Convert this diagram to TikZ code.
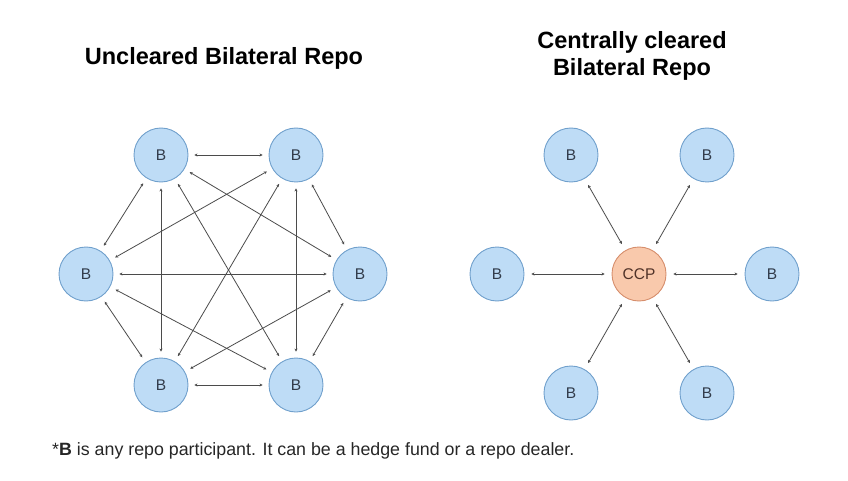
\documentclass[tikz,border=0pt]{standalone}
\usepackage{fontspec}
\setmainfont{Liberation Sans}
\usepackage{xcolor}
\usepackage{tikz}
\usetikzlibrary{arrows.meta}
\definecolor{bFill}{RGB}{190,220,246}
\definecolor{bLine}{RGB}{112,160,204}
\definecolor{bText}{RGB}{50,60,75}
\definecolor{cFill}{RGB}{249,201,172}
\definecolor{cLine}{RGB}{214,142,108}
\definecolor{cText}{RGB}{80,50,40}
\definecolor{eGray}{RGB}{75,75,75}

\begin{document}
\begin{tikzpicture}[x=1pt, y=-1pt,
  party/.style={circle, draw=bLine, fill=bFill, line width=0.9pt, minimum size=54pt,
    inner sep=0pt, text=bText, font=\fontsize{15.5}{15.5}\selectfont},
  ccp/.style={party, draw=cLine, fill=cFill, text=cText},
  link/.style={eGray, line width=0.8pt, shorten <=6pt, shorten >=6pt,
    {Stealth[length=3pt,width=3pt]}-{Stealth[length=3pt,width=3pt]}},
  heading/.style={font=\bfseries\fontsize{23.5}{27}\selectfont, align=center}]
  \useasboundingbox (0,0) rectangle (848,481);

  % titles
  \node[heading, anchor=base] (tl) at (224,65) {Uncleared Bilateral Repo};
  \node[heading, anchor=base] (tr) at (632,76) {Centrally cleared\\Bilateral Repo};

  % uncleared side — six dealers, everyone trades with everyone
  \node[party] (u1) at (161,155) {B};
  \node[party] (u2) at (296,155) {B};
  \node[party] (u3) at (360,274) {B};
  \node[party] (u4) at (296,385) {B};
  \node[party] (u5) at (161,385) {B};
  \node[party] (u6) at (86,274)  {B};
  \foreach \a/\b in {u1/u2, u1/u3, u1/u4, u1/u5, u1/u6,
                     u2/u3, u2/u4, u2/u5, u2/u6,
                     u3/u4, u3/u5, u3/u6,
                     u4/u5, u4/u6,
                     u5/u6} {
    \draw[link] (\a) -- (\b);
  }

  % cleared side — all trades go through the CCP
  \node[ccp] (ccp) at (639,274) {CCP};
  \node[party] (c1) at (571,155) {B};
  \node[party] (c2) at (707,155) {B};
  \node[party] (c3) at (772,274) {B};
  \node[party] (c4) at (707,393) {B};
  \node[party] (c5) at (571,393) {B};
  \node[party] (c6) at (497,274) {B};
  \foreach \c in {c1, c2, c3, c4, c5, c6} {
    \draw[link, shorten <=7pt, shorten >=7pt] (ccp) -- (\c);
  }

  % footnote
  \node[anchor=base west, inner sep=0pt, font=\fontsize{17.8}{20}\selectfont, text=black!85] (note) at (52,455)
    {*\textbf{B} is any repo participant. It can be a hedge fund or a repo dealer.};
\end{tikzpicture}
\end{document}
